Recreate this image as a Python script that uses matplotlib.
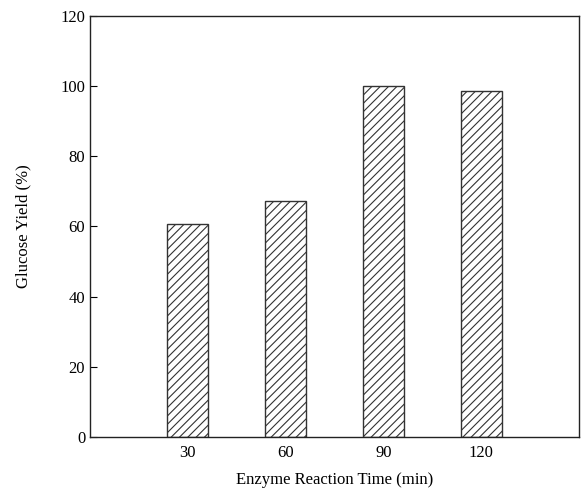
import matplotlib
matplotlib.use("Agg")
import matplotlib.pyplot as plt

times = ["30", "60", "90", "120"]
yield_pct = [60.6, 67.3, 99.9, 98.7]
y_ticks = [0, 20, 40, 60, 80, 100, 120]

plt.rcParams['font.family'] = ['Liberation Serif', 'DejaVu Serif']
plt.rcParams['hatch.linewidth'] = 0.8

fig = plt.figure(figsize=(5.81, 4.98), dpi=100)
ax = fig.add_axes([0.155, 0.1225, 0.8416, 0.8455])

pos = list(range(1, len(times) + 1))
ax.bar(pos, yield_pct, width=0.42, facecolor='white', edgecolor='#333333',
       linewidth=1.0, hatch='////')

ax.set_xlim(0, 5)
ax.set_ylim(0, 120)
ax.set_xticks(pos)
ax.set_xticklabels(times)
ax.set_yticks(y_ticks)
ax.tick_params(axis='y', direction='in', length=5, labelsize=12, width=0.8)
ax.tick_params(axis='x', length=0, labelsize=12, pad=6)
for s in ax.spines.values():
    s.set_linewidth(1.0)
    s.set_color('#222222')

ax.set_ylabel("Glucose Yield (%)", fontsize=12, labelpad=21)
ax.set_xlabel("Enzyme Reaction Time (min)", fontsize=12, labelpad=8)

fig.savefig("out.png", dpi=100)
